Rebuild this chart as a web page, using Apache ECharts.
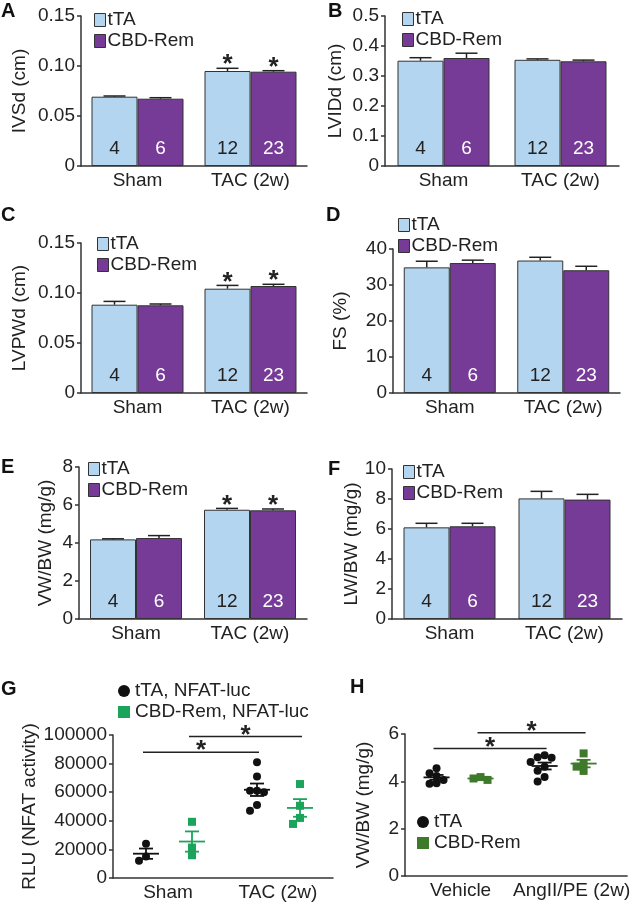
<!DOCTYPE html>
<html><head><meta charset="utf-8">
<script src="https://cdn.jsdelivr.net/npm/echarts@6/dist/echarts.min.js"></script>
<style>html,body{margin:0;padding:0;background:#fff}#c{width:632px;height:902px}</style>
</head><body><div id="c"></div>
<script>
// ---------------- DATA ----------------
const barCategories = ['Sham', 'TAC (2w)'];
const nTTA = [4, 12];
const nCBD = [6, 23];

const ivsdTicks = [0, 0.05, 0.10, 0.15];
const ivsdTTA = [0.0693, 0.0950];
const ivsdTTAsem = [0.0007, 0.0027];
const ivsdCBD = [0.0673, 0.0943];
const ivsdCBDsem = [0.0010, 0.0010];
const ivsdSig = [0, 1];

const lviddTicks = [0, 0.1, 0.2, 0.3, 0.4, 0.5];
const lviddTTA = [0.351, 0.354];
const lviddTTAsem = [0.010, 0.003];
const lviddCBD = [0.360, 0.349];
const lviddCBDsem = [0.016, 0.004];
const lviddSig = [0, 0];

const lvpwdTicks = [0, 0.05, 0.10, 0.15];
const lvpwdTTA = [0.0883, 0.1043];
const lvpwdTTAsem = [0.0033, 0.0033];
const lvpwdCBD = [0.0877, 0.1070];
const lvpwdCBDsem = [0.0013, 0.0017];
const lvpwdSig = [0, 1];

const fsTicks = [0, 10, 20, 30, 40];
const fsTTA = [34.9, 36.8];
const fsTTAsem = [1.7, 0.9];
const fsCBD = [36.1, 34.1];
const fsCBDsem = [0.8, 1.1];
const fsSig = [0, 0];

const vwbwTicks = [0, 2, 4, 6, 8];
const vwbwTTA = [4.19, 5.75];
const vwbwTTAsem = [0.03, 0.07];
const vwbwCBD = [4.26, 5.72];
const vwbwCBDsem = [0.13, 0.07];
const vwbwSig = [0, 1];

const lwbwTicks = [0, 2, 4, 6, 8, 10];
const lwbwTTA = [6.11, 8.04];
const lwbwTTAsem = [0.27, 0.47];
const lwbwCBD = [6.18, 7.96];
const lwbwCBDsem = [0.20, 0.35];
const lwbwSig = [0, 0];

// Panel G: NFAT luciferase (individual animals)
const gCategories = ['Sham', 'TAC (2w)'];
const gTicks = [0, 20000, 40000, 60000, 80000, 100000];
const gTTAsham = [24000, 15000, 12000];
const gTTAtac = [81000, 71000, 61000, 61000, 60000, 51000, 47000];
const gCBDsham = [39300, 21300, 15900];
const gCBDtac = [65700, 50500, 42000, 37800];

// Panel H: AngII/PE infusion (individual animals)
const hCategories = ['Vehicle', 'AngII/PE (2w)'];
const hTicks = [0, 2, 4, 6];
const hTTAveh = [4.55, 4.34, 4.23, 4.06, 3.92, 3.90];
const hCBDveh = [4.18, 4.12, 4.06];
const hTTAang = [5.10, 5.02, 5.00, 4.82, 4.62, 4.45, 4.18, 3.99];
const hCBDang = [5.18, 4.76, 4.62, 4.44];

// ---------------- STYLE ----------------
const FONT = '"Liberation Sans", Arial, Helvetica, sans-serif';
const COL_TTA = '#b3d5ef';
const COL_CBD = '#763b96';
const COL_G_GREEN = '#1ba45b';
const COL_H_GREEN = '#3f7a2c';
const INK = '#222';
const AX = '#333';

const fmt2 = v => v === 0 ? '0' : v.toFixed(2);
const fmt1 = v => v === 0 ? '0' : v.toFixed(1);
const fmt0 = v => String(Math.round(v));

const barPanels = [
  {letter:'A', lx:1, ly:1, grid:{left:81, top:16, width:226, height:150}, name:'IVSd (cm)', ticks:ivsdTicks, fmt:fmt2, nameGap:52,
   legend:[94, 10], tta:ivsdTTA, ttaSem:ivsdTTAsem, cbd:ivsdCBD, cbdSem:ivsdCBDsem, sig:ivsdSig},
  {letter:'B', lx:328, ly:1, grid:{left:385, top:16, width:234, height:150}, name:'LVIDd (cm)', ticks:lviddTicks, fmt:fmt1, nameGap:40,
   legend:[402, 9], tta:lviddTTA, ttaSem:lviddTTAsem, cbd:lviddCBD, cbdSem:lviddCBDsem, sig:lviddSig},
  {letter:'C', lx:1, ly:205, grid:{left:81, top:243, width:226, height:150}, name:'LVPWd (cm)', ticks:lvpwdTicks, fmt:fmt2, nameGap:52,
   legend:[97, 234], tta:lvpwdTTA, ttaSem:lvpwdTTAsem, cbd:lvpwdCBD, cbdSem:lvpwdCBDsem, sig:lvpwdSig},
  {letter:'D', lx:326, ly:205, grid:{left:393, top:249, width:227, height:144}, name:'FS (%)', ticks:fsTicks, fmt:fmt0, nameGap:43,
   legend:[398, 215], tta:fsTTA, ttaSem:fsTTAsem, cbd:fsCBD, cbdSem:fsCBDsem, sig:fsSig},
  {letter:'E', lx:1, ly:457, grid:{left:79, top:467, width:228, height:152}, name:'VW/BW (mg/g)', ticks:vwbwTicks, fmt:fmt0, nameGap:24,
   legend:[88, 459], tta:vwbwTTA, ttaSem:vwbwTTAsem, cbd:vwbwCBD, cbdSem:vwbwCBDsem, sig:vwbwSig},
  {letter:'F', lx:328, ly:459, grid:{left:392, top:469, width:230, height:150}, name:'LW/BW (mg/g)', ticks:lwbwTicks, fmt:fmt0, nameGap:26,
   legend:[403, 462], tta:lwbwTTA, ttaSem:lwbwTTAsem, cbd:lwbwCBD, cbdSem:lwbwCBDsem, sig:lwbwSig}
];

const option = {
  animation: false,
  backgroundColor: '#fff',
  textStyle: {fontFamily: FONT},
  grid: [], xAxis: [], yAxis: [], series: [], legend: [], graphic: []
};

function yAxisDef(gi, ticks, name, nameGap, fmt) {
  return {
    type: 'value', gridIndex: gi, min: ticks[0], max: ticks[ticks.length - 1], interval: ticks[1] - ticks[0],
    name: name, nameLocation: 'middle', nameGap: nameGap,
    nameTextStyle: {fontSize: 19, color: INK, fontFamily: FONT},
    axisLine: {show: true, lineStyle: {color: AX, width: 1.5}},
    axisTick: {show: true, length: 4, lineStyle: {color: AX, width: 1.5}},
    axisLabel: {color: INK, fontSize: 19, margin: 6, fontFamily: FONT, formatter: fmt},
    splitLine: {show: false}
  };
}
function xAxisDef(gi, cats) {
  return {
    type: 'category', gridIndex: gi, data: cats, boundaryGap: true,
    axisLine: {show: true, lineStyle: {color: AX, width: 1.5}},
    axisTick: {show: false},
    axisLabel: {color: INK, fontSize: 19, margin: 5, fontFamily: FONT, interval: 0},
    splitLine: {show: false}
  };
}
function letter(t, x, y) {
  return {type: 'text', left: x, top: y, style: {text: t, font: 'bold 20px ' + FONT, fill: '#111'}};
}

function errRender(offsetPx) {
  return function (params, api) {
    const cat = api.value(0), v = api.value(1), e = api.value(2), sig = api.value(3);
    const base = api.coord([cat, v]);
    const top = api.coord([cat, v + e]);
    const x = base[0] + offsetPx;
    const ch = [];
    if (e > 0) {
      ch.push({type: 'line', shape: {x1: x, y1: base[1], x2: x, y2: top[1]}, style: {stroke: INK, lineWidth: 1.5}});
      ch.push({type: 'line', shape: {x1: x - 11, y1: top[1], x2: x + 11, y2: top[1]}, style: {stroke: INK, lineWidth: 1.5}});
    }
    if (sig) {
      ch.push({type: 'text', x: x, y: top[1] - 3, style: {text: '*', font: 'bold 26px ' + FONT, fill: INK, align: 'center', verticalAlign: 'middle'}});
    }
    return {type: 'group', children: ch};
  };
}

barPanels.forEach((p, i) => {
  option.grid.push(Object.assign({}, p.grid));
  option.xAxis.push(xAxisDef(i, barCategories));
  option.yAxis.push(yAxisDef(i, p.ticks, p.name, p.nameGap, p.fmt));
  const groups = [
    {name: 'tTA', vals: p.tta, sem: p.ttaSem, counts: nTTA, col: COL_TTA, lc: INK, off: -23},
    {name: 'CBD-Rem', vals: p.cbd, sem: p.cbdSem, counts: nCBD, col: COL_CBD, lc: '#fff', off: 23}
  ];
  groups.forEach(g => {
    option.series.push({
      type: 'bar', name: g.name, xAxisIndex: i, yAxisIndex: i, data: g.vals,
      barWidth: 46, barGap: '0%', z: 2,
      itemStyle: {color: g.col, borderColor: AX, borderWidth: 1},
      label: {show: true, position: 'insideBottom', distance: 8, color: g.lc, fontSize: 19, fontFamily: FONT,
        formatter: q => String(g.counts[q.dataIndex])}
    });
  });
  groups.forEach(g => {
    option.series.push({
      type: 'custom', xAxisIndex: i, yAxisIndex: i, z: 5,
      data: g.vals.map((v, k) => [k, v, g.sem[k], p.sig[k]]),
      encode: {x: 0, y: 1},
      renderItem: errRender(g.off)
    });
  });
  option.legend.push({
    orient: 'vertical', left: p.legend[0], top: p.legend[1], padding: 0, itemGap: 1,
    itemWidth: 11, itemHeight: 13, icon: 'rect', selectedMode: false,
    data: ['tTA', 'CBD-Rem'],
    itemStyle: {borderColor: AX, borderWidth: 1},
    textStyle: {fontSize: 19, color: INK, lineHeight: 20, fontFamily: FONT, padding: [0, 0, 0, -3]}
  });
  option.graphic.push(letter(p.letter, p.lx, p.ly));
});

// ---------------- Scatter panels (G, H) ----------------
function mean(a) { return a.reduce((s, v) => s + v, 0) / a.length; }
function sem(a) {
  const m = mean(a);
  const sd = Math.sqrt(a.reduce((s, v) => s + (v - m) * (v - m), 0) / (a.length - 1));
  return sd / Math.sqrt(a.length);
}
function swarm(values, pxPerUnit, minDist, step) {
  const order = values.map((v, i) => i).sort((a, b) => values[b] - values[a]);
  const placed = [];
  const offs = new Array(values.length).fill(0);
  order.forEach(i => {
    const y = values[i] * pxPerUnit;
    const cands = [0];
    for (let k = 1; k < 8; k++) cands.push(-k * step, k * step);
    for (const dx of cands) {
      if (placed.every(q => Math.hypot(q.x - dx, q.y - y) >= minDist)) {
        offs[i] = dx; placed.push({x: dx, y: y}); break;
      }
    }
  });
  return offs;
}

function scatterPanel(gi, cfg) {
  option.grid.push(Object.assign({}, cfg.grid));
  option.xAxis.push(xAxisDef(gi, cfg.cats));
  option.yAxis.push(yAxisDef(gi, cfg.ticks, cfg.name, cfg.nameGap, cfg.fmt));
  const yMax = cfg.ticks[cfg.ticks.length - 1];
  const ppu = cfg.grid.height / yMax;
  cfg.groups.forEach(g => {
    const data = [];
    g.sets.forEach((vals, c) => {
      const offs = swarm(vals, ppu, 7, 7);
      vals.forEach((v, k) => data.push({value: [c, v], symbolOffset: [g.off[c] + offs[k], 0]}));
    });
    option.series.push({
      type: 'scatter', name: g.name, xAxisIndex: gi, yAxisIndex: gi, symbol: g.symbol, symbolSize: 8,
      itemStyle: {color: g.color, opacity: 1}, data: data, z: 3
    });
    option.series.push({
      type: 'custom', xAxisIndex: gi, yAxisIndex: gi, z: 4,
      data: g.sets.map((vals, c) => [c, mean(vals), sem(vals), g.off[c]]),
      encode: {x: 0, y: 1},
      renderItem: function (params, api) {
        const c = api.value(0), m = api.value(1), s = api.value(2), off = api.value(3);
        const pm = api.coord([c, m]), pt = api.coord([c, m + s]), pb = api.coord([c, m - s]);
        const x = pm[0] + off;
        const st = {stroke: g.color, lineWidth: 1.8};
        return {type: 'group', children: [
          {type: 'line', shape: {x1: x - 13, y1: pm[1], x2: x + 13, y2: pm[1]}, style: st},
          {type: 'line', shape: {x1: x, y1: pt[1], x2: x, y2: pb[1]}, style: st},
          {type: 'line', shape: {x1: x - 7, y1: pt[1], x2: x + 7, y2: pt[1]}, style: st},
          {type: 'line', shape: {x1: x - 7, y1: pb[1], x2: x + 7, y2: pb[1]}, style: st}
        ]};
      }
    });
  });
  // significance brackets: each group compared between its two conditions
  const allMax = Math.max.apply(null, cfg.groups.flatMap(g => g.sets.flat()));
  const lvl1 = allMax + cfg.bracketPad * yMax;
  const lvl2 = lvl1 + 0.11 * yMax;
  option.series.push({
    type: 'custom', xAxisIndex: gi, yAxisIndex: gi, z: 4,
    data: [[0, 1, lvl1, 0], [0, 1, lvl2, 1]],
    encode: {x: [0, 1], y: 2},
    renderItem: function (params, api) {
      const g = cfg.groups[api.value(3)];
      const a = api.coord([api.value(0), api.value(2)]);
      const b = api.coord([api.value(1), api.value(2)]);
      const x1 = a[0] + g.off[0] - 3, x2 = b[0] + g.off[1] + 2;
      return {type: 'group', children: [
        {type: 'line', shape: {x1: x1, y1: a[1], x2: x2, y2: b[1]}, style: {stroke: INK, lineWidth: 1.5}},
        {type: 'text', x: (x1 + x2) / 2, y: a[1] - 1, style: {text: '*', font: 'bold 26px ' + FONT, fill: INK, align: 'center', verticalAlign: 'middle'}}
      ]};
    }
  });
  option.legend.push({
    orient: 'vertical', left: cfg.legend[0], top: cfg.legend[1], padding: 0, itemGap: 1,
    itemWidth: 12, itemHeight: 12, selectedMode: false,
    data: cfg.groups.map(g => ({name: g.name, icon: g.symbol === 'rect' ? 'rect' : 'circle'})),
    textStyle: {fontSize: 19, color: INK, lineHeight: 20, fontFamily: FONT}
  });
  option.graphic.push(letter(cfg.letter, cfg.lx, cfg.ly));
}

scatterPanel(6, {
  letter: 'G', lx: 1, ly: 679, grid: {left: 113, top: 735, width: 220, height: 143},
  cats: gCategories, ticks: gTicks, name: 'RLU (NFAT activity)', nameGap: 74, fmt: fmt0,
  legend: [118, 681], bracketPad: 0.07,
  groups: [
    {name: 'tTA, NFAT-luc', symbol: 'circle', color: '#111', sets: [gTTAsham, gTTAtac], off: [-22, -21]},
    {name: 'CBD-Rem, NFAT-luc', symbol: 'rect', color: COL_G_GREEN, sets: [gCBDsham, gCBDtac], off: [24, 22]}
  ]
});
scatterPanel(7, {
  letter: 'H', lx: 350, ly: 677, grid: {left: 405, top: 734, width: 227, height: 142},
  cats: hCategories, ticks: hTicks, name: 'VW/BW (mg/g)', nameGap: 32, fmt: fmt0,
  legend: [417, 812], bracketPad: 0.035,
  groups: [
    {name: 'tTA ', symbol: 'circle', color: '#111', sets: [hTTAveh, hTTAang], off: [-24, -27]},
    {name: 'CBD-Rem ', symbol: 'rect', color: COL_H_GREEN, sets: [hCBDveh, hCBDang], off: [20, 12]}
  ]
});

const chart = echarts.init(document.getElementById('c'), null, {renderer: 'canvas', width: 632, height: 902});
chart.setOption(option);
</script>
</body></html>
